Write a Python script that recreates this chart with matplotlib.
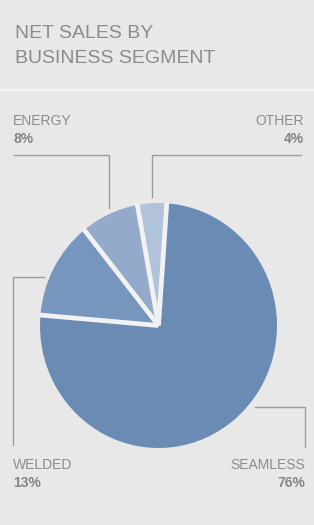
import numpy as np
import matplotlib
matplotlib.use("Agg")
import matplotlib.pyplot as plt

W, H = 314, 525
BG = '#e8e8e8'
TEXT = '#8c8c8c'
LINE = '#9c9c9c'
GAP = '#f2f2f2'

title_lines = ["NET SALES BY", "BUSINESS SEGMENT"]
segments = ['SEAMLESS', 'WELDED', 'ENERGY', 'OTHER']
shares = [76, 13, 8, 4]
colors = ['#6a8cb4', '#7696be', '#94aacb', '#b1c3db']

# label anchor (pixel coords: x, baseline of name), alignment
label_pos = {
    'ENERGY': (13, 125, 'left'),
    'OTHER': (304, 125, 'right'),
    'WELDED': (13, 469, 'left'),
    'SEAMLESS': (305, 469, 'right'),
}
# leader lines as polylines in pixel coords
leaders = {
    'ENERGY': [(14, 155), (109, 155), (109, 208)],
    'OTHER': [(301, 155), (152, 155), (152, 197)],
    'WELDED': [(44, 277), (13, 277), (13, 445)],
    'SEAMLESS': [(255, 407), (305, 407), (305, 447)],
}

plt.rcParams['font.family'] = ['Liberation Sans', 'DejaVu Sans']

fig = plt.figure(figsize=(W / 100, H / 100), dpi=100)
fig.patch.set_facecolor(BG)

ax = fig.add_axes([0, 0, 1, 1])
ax.set_xlim(0, W)
ax.set_ylim(H, 0)
ax.axis('off')

# separator under the title block
ax.plot([0, W], [90, 90], color='#f3f3f3', lw=1.6, solid_capstyle='butt')

for i, line in enumerate(title_lines):
    ax.text(15, 38 + 25 * i, line, fontsize=14, color=TEXT, va='baseline')

for name, val in zip(segments, shares):
    x, y, ha = label_pos[name]
    ax.text(x, y, name, fontsize=10, color=TEXT, ha=ha, va='baseline')
    ax.text(x, y + 18, f"{val}%", fontsize=10, color='#858585', ha=ha,
            va='baseline', fontweight='bold')
    xs, ys = zip(*leaders[name])
    ax.plot(xs, ys, color=LINE, lw=1.0, solid_joinstyle='miter')

# pie in its own axes (slightly taller than wide, as in the reference)
left, top, pw, ph = 40, 203, 237, 245
pax = fig.add_axes([left / W, (H - top - ph) / H, pw / W, ph / H])
wedges, _ = pax.pie(shares, colors=colors, startangle=86, counterclock=False,
                    wedgeprops=dict(linewidth=0))
# white gaps between the wedges only (no outline round the pie)
for w in wedges:
    t = np.deg2rad(w.theta1)
    pax.plot([0, np.cos(t) * 1.02], [0, np.sin(t) * 1.02], color=GAP,
             lw=3.4, solid_capstyle='butt')
pax.set_aspect('auto')
pax.set_xlim(-1, 1)
pax.set_ylim(-1, 1)
pax.axis('off')

fig.savefig('out.png', dpi=100, facecolor=BG)
